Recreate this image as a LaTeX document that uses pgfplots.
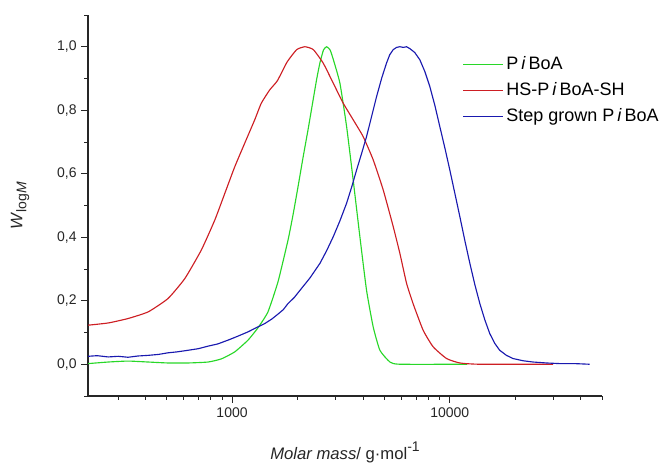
\documentclass[border=0pt]{standalone}
\usepackage{fontspec}
\setmainfont{Liberation Sans}
\usepackage{pgfplots}
\pgfplotsset{compat=1.18}
\definecolor{cgreen}{RGB}{40,215,40}
\definecolor{cred}{RGB}{205,30,35}
\definecolor{cblue}{RGB}{25,25,175}
\begin{document}
\begin{tikzpicture}
\begin{axis}[
  scale only axis, width=385.5pt, height=285.75pt,
  xmode=log, xmin=218, xmax=50000, ymin=-0.1, ymax=1.1,
  axis x line*=bottom, axis y line*=left,
  axis line style={line width=0.9pt, black!85},
  tick align=outside, tick style={black!85, line width=0.7pt},
  major tick length=5pt, minor tick length=3pt,
  xtick={1000,10000}, xticklabels={1000,10000},
  minor xtick={300,400,500,600,700,800,900,2000,3000,4000,5000,6000,7000,8000,9000,20000,30000,40000,50000},
  ytick={0,0.2,0.4,0.6,0.8,1.0}, minor ytick={-0.1,0.1,0.3,0.5,0.7,0.9,1.1},
  yticklabel style={/pgf/number format/.cd, fixed, fixed zerofill, precision=1, use comma, assume math mode=true},
  tick label style={font=\fontsize{10.5}{12}\selectfont, black!85},
  xlabel={\textit{Molar mass}/ g·mol\raisebox{0.9ex}{\fontsize{10.5}{12}\selectfont -1}},
  ylabel={\textit{W}\raisebox{-0.45ex}{\fontsize{10.5}{12}\selectfont log\textit{M}}},
  label style={font=\fontsize{12.5}{14}\selectfont, black!85},
  xlabel style={at={(axis description cs:0.5,-0.147)}, anchor=center},
  ylabel style={at={(axis description cs:-0.132,0.5)}, anchor=center},
  legend cell align=left,
  legend style={at={(axis description cs:0.728,0.898)}, anchor=north west, draw=none, fill=none,
    font=\fontsize{13.5}{15}\selectfont, inner sep=0pt, row sep=4.2pt},
  legend image code/.code={\draw[mark repeat=2,mark phase=2,#1] plot coordinates {(0pt,0pt) (15pt,0pt) (30pt,0pt)};},
  every axis plot/.append style={line width=0.85pt},
]
\addplot[cgreen, smooth, tension=0.3] coordinates {
(218,0.002) (270,0.007) (333,0.010) (412,0.007) (508,0.004) (628,0.004) (776,0.007) (894,0.017)
(1029,0.039) (1184,0.076) (1316,0.115) (1462,0.165) (1626,0.26) (1806,0.39) (1905,0.47) (2010,0.56)
(2117,0.65) (2235,0.74) (2353,0.83) (2450,0.90) (2534,0.95) (2630,0.99) (2718,1.0) (2820,0.99) (2917,0.960) (3129,0.885) (3357,0.749)
(3600,0.580) (3864,0.402) (4146,0.233) (4447,0.118) (4775,0.044) (5309,0.007) (5899,0.0) (12000,0.0)
};
\addlegendentry{P\,\textit{i}\,BoA}
\addplot[cred, smooth, tension=0.3] coordinates {
(218,0.123) (270,0.130) (333,0.144) (412,0.165) (508,0.207) (607,0.270) (723,0.360) (833,0.454)
(926,0.538) (1029,0.622) (1143,0.696) (1271,0.770) (1362,0.822) (1489,0.864) (1615,0.893) (1790,0.952)
(1982,0.991) (2161,1.0) (2361,0.991) (2624,0.948) (2917,0.885) (3241,0.822) (3600,0.770) (4000,0.717)
(4447,0.644) (4945,0.549) (5499,0.433) (5899,0.349) (6330,0.255) (6790,0.19) (7545,0.107) (8383,0.055)
(9660,0.018) (11120,0.004) (13740,0.0) (29780,0.0)
};
\addlegendentry{HS-P\,\textit{i}\,BoA-SH}
\addplot[cblue] coordinates {
(218,0.025) (240,0.027) (270,0.023) (300,0.025) (333,0.022) (370,0.026) (412,0.028) (460,0.031) (508,0.036)
(560,0.039) (628,0.044) (700,0.049) (776,0.057) (860,0.064) (959,0.076) (1060,0.088)
(1184,0.102) (1300,0.116) (1412,0.128) (1520,0.142) (1626,0.158) (1720,0.172) (1806,0.191) (1930,0.210) (2052,0.233)
(2280,0.272) (2534,0.318) (2720,0.358) (2917,0.402) (3130,0.452) (3357,0.507) (3550,0.560)
(3733,0.612) (3940,0.665) (4146,0.717) (4380,0.782) (4610,0.843) (4870,0.902) (5124,0.949) (5300,0.975) (5499,0.991) (5700,0.998) (5899,1.0) (6111,0.998) (6330,1.0) (6556,0.994)
(6900,0.982) (7284,0.959) (7680,0.922) (8093,0.875) (8540,0.815) (8994,0.749) (9500,0.680) (10000,0.612) (10550,0.538) (11120,0.465) (11720,0.390) (12360,0.318) (13040,0.250) (13740,0.191)
(14480,0.140) (15250,0.097) (16080,0.066) (16950,0.044) (18200,0.028) (19510,0.018) (21700,0.011) (24110,0.007) (27800,0.004) (31980,0.002) (37500,0.002) (43850,0.0)
};
\addlegendentry{Step grown P\,\textit{i}\,BoA}
\end{axis}
\pgfresetboundingbox
\path ([xshift=-66pt,yshift=-50.25pt]current axis.south west) rectangle ++(501.75pt,347.25pt);
\end{tikzpicture}
\end{document}
